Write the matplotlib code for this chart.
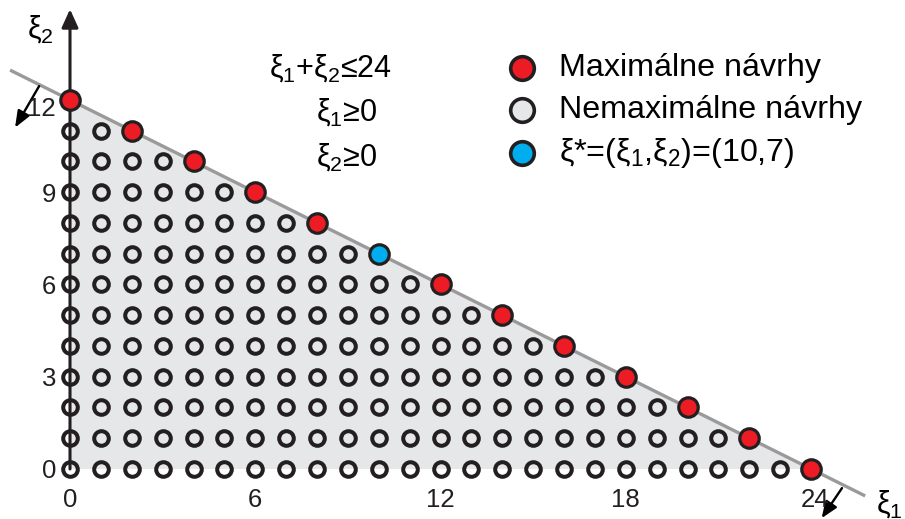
import matplotlib
matplotlib.use("Agg")
import matplotlib.pyplot as plt
from matplotlib.patches import Polygon

plt.rcParams['font.family'] = ['Liberation Sans', 'DejaVu Sans']
plt.rcParams['mathtext.fontset'] = 'custom'
plt.rcParams['mathtext.rm'] = 'Liberation Sans'
plt.rcParams['mathtext.it'] = 'Liberation Sans'
plt.rcParams['mathtext.bf'] = 'Liberation Sans'

# ---- data ----
rows = [0, 1, 2, 3, 4, 5, 6, 7, 8, 9, 10, 11, 12]              # xi2 values
row_max = [24, 22, 20, 18, 16, 14, 12, 10, 8, 6, 4, 2, 0]     # largest xi1 in each row (maximal design)
optimum = (10, 7)
x_ticks = [0, 6, 12, 18, 24]
y_ticks = [0, 3, 6, 9, 12]
legend_labels = ["Maximálne návrhy", "Nemaximálne návrhy", r"ξ*=(ξ$_1$,ξ$_2$)=(10,7)"]
constraints = [r"ξ$_1$+ξ$_2$≤24", r"ξ$_1$≥0", r"ξ$_2$≥0"]

RED = '#ed1c24'
BLUE = '#00aeef'
EDGE = '#231f20'
FILL = '#e6e7e8'

fig = plt.figure(figsize=(9.05, 5.19), dpi=100)
ax = fig.add_axes([0, 0, 1, 1])
ax.set_xlim(-2.267, 27.04)
ax.set_ylim(-1.626, 15.25)
ax.axis('off')

# shaded feasible region
ax.add_patch(Polygon([(0, 0), (0, rows[-1]), (row_max[0], 0)],
                     closed=True, facecolor=FILL, edgecolor='none', zorder=1))

# boundary line
ax.plot([-1.94, 25.75], [12 + 1.94 / 2, 12 - 25.75 / 2], color='#9a9a9a', lw=2.4, zorder=2,
        solid_capstyle='butt')

# axes with arrows
for xy in [(27.3, 0), (0, 14.95)]:
    ax.annotate('', xy=xy, xytext=(0, 0),
                arrowprops=dict(arrowstyle='-|>,head_length=1.1,head_width=0.5', color=EDGE, lw=2.2,
                                shrinkA=0, shrinkB=0), zorder=3)

# small direction arrows
for (x0, y0), (x1, y1) in [((-1.0, 12.45), (-1.78, 11.1)), ((25.0, -0.62), (24.34, -1.6))]:
    ax.annotate('', xy=(x1, y1), xytext=(x0, y0),
                arrowprops=dict(arrowstyle='-|>,head_length=1.0,head_width=0.4', color='black', lw=1.7,
                                shrinkA=0, shrinkB=0), zorder=3)

# points
ox, oy, rx, ry = [], [], [], []
for r, m in zip(rows, row_max):
    for i in range(m):
        ox.append(i)
        oy.append(r)
    if (m, r) != optimum:
        rx.append(m)
        ry.append(r)
ax.plot(ox, oy, 'o', ms=10.5, mfc='none', mec=EDGE, mew=2.9, zorder=4, ls='none')
ax.plot(rx, ry, 'o', ms=14, mfc=RED, mec=EDGE, mew=2.3, zorder=5, ls='none')
ax.plot([optimum[0]], [optimum[1]], 'o', ms=14, mfc=BLUE, mec=EDGE, mew=2.3, zorder=5, ls='none')

# tick labels
for v in x_ticks:
    ax.text(v + (0.12 if v == 24 else 0), -1.0, str(v), ha='center', va='center', fontsize=18.5,
            color='#231f20')
for v in y_ticks:
    off = -0.3 if v == 12 else -0.08
    ax.text(-0.45, v + off, str(v), ha='right', va='center', fontsize=18.5, color='#231f20')

# axis labels
ax.text(-0.95, 14.3, r"ξ$_2$", fontsize=22, ha='center', va='center')
ax.text(26.55, -1.15, r"ξ$_1$", fontsize=22, ha='center', va='center')

# constraints text
ax.text(8.42, 13.05, constraints[0], fontsize=22, ha='center', va='center')
ax.text(8.97, 11.6, constraints[1], fontsize=22, ha='center', va='center')
ax.text(8.97, 10.13, constraints[2], fontsize=22, ha='center', va='center')

# legend
leg_x = (522 - 70) / 30.875
leg_ys = [(469 - 68) / 30.75, (469 - 110) / 30.75, (469 - 153) / 30.75]
leg_colors = [RED, FILL, BLUE]
for ly, c, lab in zip(leg_ys, leg_colors, legend_labels):
    ax.plot([leg_x], [ly], 'o', ms=17, mfc=c, mec=EDGE, mew=2.6, zorder=5)
    ax.text(leg_x + 1.2, ly, lab, fontsize=23.2, ha='left', va='center')

fig.savefig('out.png', dpi=100)
